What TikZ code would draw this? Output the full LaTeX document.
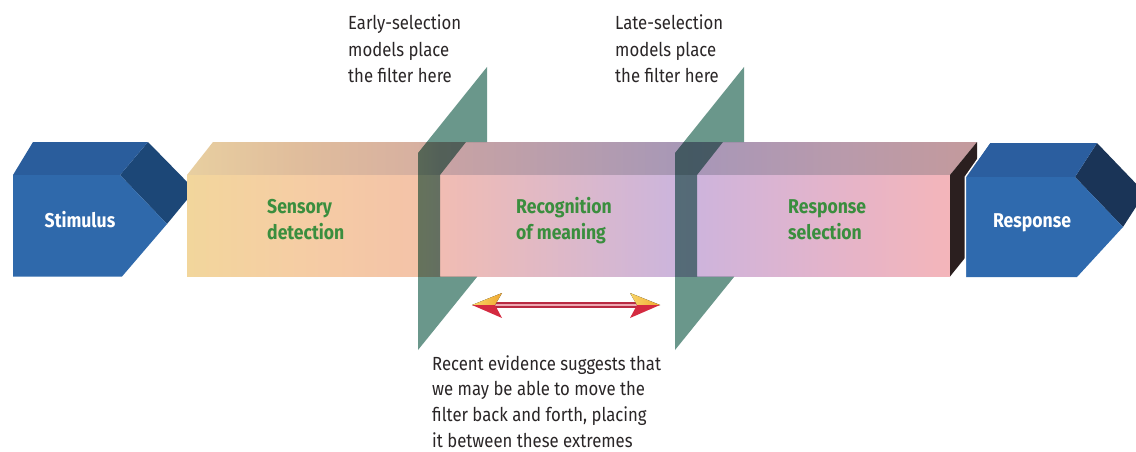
\documentclass[tikz,border=0pt]{standalone}
\usepackage{fontspec}
\setmainfont{Fira Sans}[FakeStretch=0.88]
\usetikzlibrary{calc}

% block colours
\definecolor{stimFront}{HTML}{2F69AB}
\definecolor{stimTop}{HTML}{2A5D9C}
\definecolor{stimDark}{HTML}{1C4777}
\definecolor{respFront}{HTML}{2F6AAE}
\definecolor{respTop}{HTML}{2B5E9F}
\definecolor{respDark}{HTML}{1A3457}
\definecolor{boxSide}{HTML}{2B1F1F}
\definecolor{panelteal}{HTML}{6A978B}
\definecolor{stagegreen}{HTML}{3A8E3E}
\definecolor{txt}{HTML}{2A2627}
\definecolor{arrYellowA}{HTML}{F8D568}
\definecolor{arrYellowB}{HTML}{F0A830}
\definecolor{arrRed}{HTML}{D42A40}
\definecolor{shaftRed}{HTML}{B82A42}
\definecolor{shaftLight}{HTML}{ECA8B2}

% front face of the processing box (stops 25bp..75bp span the face)
\definecolor{fA}{HTML}{F2D69C}
\definecolor{fB}{HTML}{F5CDA4}
\definecolor{fC}{HTML}{F4C3A8}
\definecolor{fD}{HTML}{F1BCB3}
\definecolor{fE}{HTML}{CCB5DC}
\definecolor{fF}{HTML}{CEB4DC}
\definecolor{fG}{HTML}{E2B4CC}
\definecolor{fH}{HTML}{F4B5BA}
\pgfdeclarehorizontalshading{frontshade}{100bp}{%
  color(0bp)=(fA); color(25bp)=(fA); color(32.4bp)=(fB); color(40.1bp)=(fC);
  color(41.6bp)=(fD); color(57bp)=(fE); color(58.4bp)=(fF); color(66.5bp)=(fG);
  color(75bp)=(fH); color(100bp)=(fH)}

% top face of the processing box
\definecolor{tA}{HTML}{E8CFA0}
\definecolor{tB}{HTML}{E0BD9C}
\definecolor{tC}{HTML}{D7B0A0}
\definecolor{tD}{HTML}{C9A3A3}
\definecolor{tE}{HTML}{A898B6}
\definecolor{tF}{HTML}{A897B8}
\definecolor{tG}{HTML}{B89AAC}
\definecolor{tH}{HTML}{C49A9C}
\pgfdeclarehorizontalshading{topshade}{100bp}{%
  color(0bp)=(tA); color(25bp)=(tA); color(32bp)=(tB); color(39.6bp)=(tC);
  color(41bp)=(tD); color(56bp)=(tE); color(57.3bp)=(tF); color(66bp)=(tG);
  color(75bp)=(tH); color(100bp)=(tH)}

\begin{document}
\begin{tikzpicture}[x=1pt,y=-1pt,
  lbl/.style={align=left, text=txt, font=\fontsize{19}{26.5}\selectfont,
    anchor=base west, inner sep=0pt},
  stagelbl/.style={align=left, text=stagegreen,
    font=\fontsize{20}{26}\selectfont\bfseries, anchor=base west, inner sep=0pt},
  blocklbl/.style={text=white, font=\fontsize{20}{26}\selectfont\bfseries,
    anchor=base, inner sep=0pt},
  panel/.style={fill=panelteal, blend mode=multiply},
  headup/.style={left color=arrYellowA, right color=arrYellowB},
]
\useasboundingbox (0,0) rectangle (1136,452);
\fill[white] (0,0) rectangle (1136,452);

\begin{scope}
\clip (0,0) rectangle (1136,452);

% Stimulus block
\fill[stimDark] (120,175) -- (148,142) -- (195,190) -- (167,224) -- cycle;
\fill[stimTop] (13,175) -- (33,142) -- (148,142) -- (120,175) -- cycle;
\fill[stimFront] (13,175) -- (120,175) -- (167,224) -- (122,276.5) -- (13,276.5) -- cycle;

% processing box: top, front and right side faces
\shade[shading=topshade] (187,175) -- (213,142) -- (977,142) -- (950,175) -- cycle;
\shade[shading=frontshade] (187,175) rectangle (950,276.5);
\fill[boxSide] (950,175) -- (977,142) -- (977,243) -- (950,276.5) -- cycle;

% Response block, set off from the box by a thin white edge
\fill[respDark] (1075,177) -- (1097,143) -- (1145,193) -- (1123,227) -- cycle;
\fill[respTop] (966,177) -- (990,143) -- (1097,143) -- (1075,177) -- cycle;
\fill[respFront] (966,177) -- (1075,177) -- (1123,227) -- (1077,277) -- (966,277) -- cycle;
\draw[white, line width=1.4pt] (965.3,277.5) -- (965.3,177) -- (989.4,142.6);

% filter planes (the part in front of the box is left out)
\fill[panel] (487,67) -- (487,142) -- (466,142) -- (440,175) -- (440,276.5)
  -- (477.4,276.5) -- (418,350) -- (418,153) -- cycle;
\fill[panel] (744,67) -- (744,142) -- (723,142) -- (697,175) -- (697,276.5)
  -- (734.4,276.5) -- (675,350) -- (675,153) -- cycle;
\end{scope}

% double-headed arrow between the two filter positions
\coordinate (arrL) at (472,305);
\coordinate (arrR) at (660,305);
\fill[shaftRed] ($(arrL)+(22,-2.6)$) rectangle ($(arrR)+(-22,3.2)$);
\fill[shaftLight] ($(arrL)+(22,-0.9)$) rectangle ($(arrR)+(-22,1.0)$);
\fill[headup] (arrL) -- ($(arrL)+(30,-12)$) -- ($(arrL)+(23,0)$) -- cycle;
\fill[arrRed] (arrL) -- ($(arrL)+(23,0)$) -- ($(arrL)+(30,13)$) -- cycle;
\fill[headup] (arrR) -- ($(arrR)+(-30,-12)$) -- ($(arrR)+(-23,0)$) -- cycle;
\fill[arrRed] (arrR) -- ($(arrR)+(-23,0)$) -- ($(arrR)+(-30,13)$) -- cycle;

% block and stage labels (base = baseline of the last line)
\node[blocklbl] (stim) at (80,227) {Stimulus};
\node[blocklbl] (resp) at (1032,227) {Response};
\node[stagelbl] (sens) at (267,239) {Sensory\\detection};
\node[stagelbl] (recog) at (516,239) {Recognition\\of meaning};
\node[stagelbl] (rsel) at (788,239) {Response\\selection};

% annotations
\node[lbl] (early) at (348,83) {Early-selection\\models place\\the filter here};
\node[lbl] (late) at (615,83) {Late-selection\\models place\\the filter here};
\node[lbl, font=\fontsize{19}{25.6}\selectfont] (recent) at (432,447)
  {Recent evidence suggests that\\we may be able to move the\\filter back and forth, placing\\it between these extremes};
\end{tikzpicture}
\end{document}
